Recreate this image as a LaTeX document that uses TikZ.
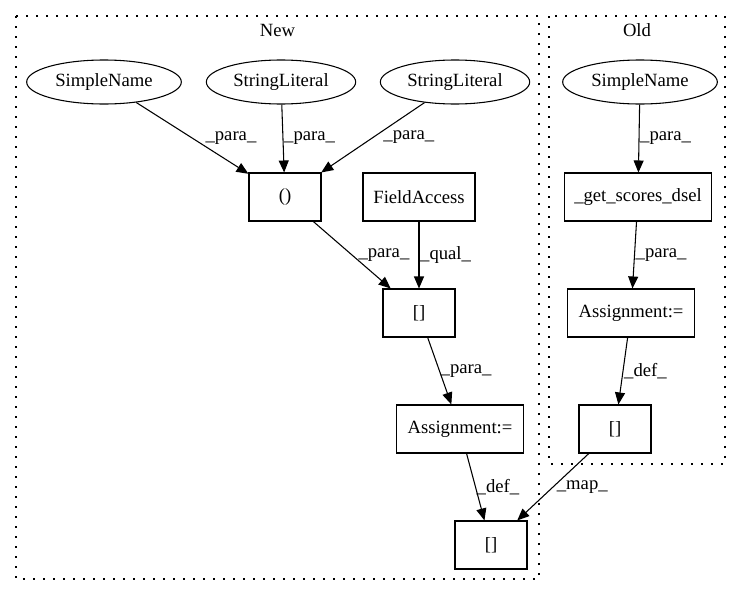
\documentclass[tikz,border=0pt]{standalone}
\usepackage{fontspec}
\setmainfont{Liberation Serif}
\usetikzlibrary{positioning}
\usetikzlibrary{arrows.meta}
\usetikzlibrary{shapes.geometric}

\begin{document}
\begin{tikzpicture}[x = 0.75pt, y = -0.75pt,
	every node/.style = {font = \fontsize{14}{16}\selectfont},
	ast/.style = {ellipse, draw, line width = 0.8pt, minimum height = 33pt, inner sep = 0pt},
	stmt/.style = {rectangle, draw, line width = 0.8pt, minimum height = 36pt, minimum width = 54pt},
	flow/.style = {-{Triangle[length = 9pt, width = 7.5pt]}, line width = 0.8pt},
	tag/.style = {midway, anchor = west, inner sep = 0.5pt},
	cluster/.style = {line width = 1pt, dash pattern = on 1.2pt off 6.3pt}]
					\useasboundingbox (0, 0) rectangle (741, 596);
					\draw [cluster] (16, 16) rectangle (539, 579);
					\node (newlbl) at (277.5, 30) {New};
					\draw [cluster] (549, 16) rectangle (725, 464);
					\node (oldlbl) at (637, 30) {Old};
					\node [ast, minimum width = 116pt] (sn) at (104, 82) {SimpleName};
					\node [ast, minimum width = 112pt] (slA) at (281, 82) {StringLiteral};
					\node [ast, minimum width = 112pt] (slB) at (455, 82) {StringLiteral};
					\node [ast, minimum width = 116pt] (osn) at (640, 82) {SimpleName};
					\node [stmt] (call) at (285, 197) {()};
					\node [stmt, minimum width = 84pt] (fa) at (419, 197) {FieldAccess};
					\node [stmt, minimum width = 110pt] (gsd) at (638, 197) {\_get\_scores\_dsel};
					\node [stmt] (idx) at (419, 313) {[]};
					\node [stmt, minimum width = 95pt] (oasg) at (631, 313) {Assignment:=};
					\node [stmt, minimum width = 95pt] (asg) at (460, 429) {Assignment:=};
					\node [stmt] (oidx) at (615, 429) {[]};
					\node [stmt] (res) at (491, 545) {[]};
					\draw [flow] (sn) -- node [tag, xshift = 9pt] {\_para\_} (call);
					\draw [flow] (slA) -- node [tag] {\_para\_} (call);
					\draw [flow] (slB) -- node [tag, xshift = 7pt] {\_para\_} (call);
					\draw [flow] (osn) -- node [tag] {\_para\_} (gsd);
					\draw [flow] (call) -- node [tag, xshift = 4pt] {\_para\_} (idx);
					\draw [flow] (fa) -- node [tag] {\_qual\_} (idx);
					\draw [flow] (gsd) -- node [tag] {\_para\_} (oasg);
					\draw [flow] (idx) -- node [tag] {\_para\_} (asg);
					\draw [flow] (oasg) -- node [tag] {\_def\_} (oidx);
					\draw [flow] (asg) -- node [tag] {\_def\_} (res);
					\draw [flow] (oidx) -- node [tag, xshift = 2pt] {\_map\_} (res);
				\end{tikzpicture}
\end{document}
